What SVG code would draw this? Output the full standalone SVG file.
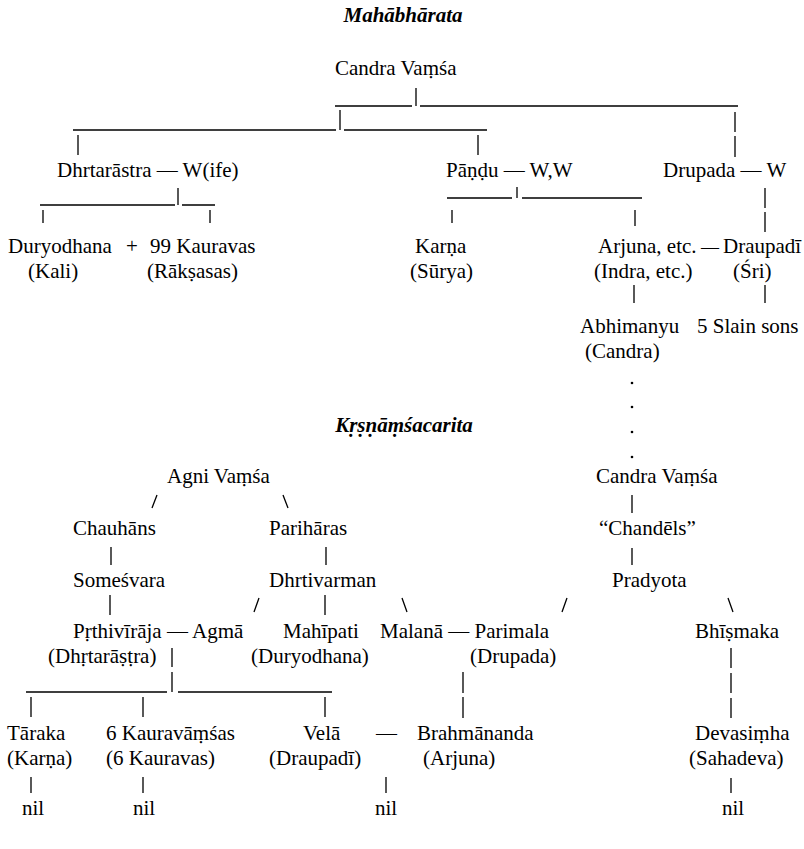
<svg xmlns="http://www.w3.org/2000/svg" width="804" height="849" viewBox="0 0 804 849">
<style>
text{font-family:"Liberation Serif","DejaVu Serif",serif;font-size:21px;fill:#000}
.t{font-weight:bold;font-style:italic;text-anchor:middle}
.c path{stroke:#000;stroke-width:1.3;fill:none}
.c circle{fill:#000}
</style>
<rect width="804" height="849" fill="#fff"/>
<g id="title-mahabharata"><text class="t" x="403" y="22">Mahābhārata</text></g>
<g class="c" id="connectors">
<path d="M416,88V106M335,106H412M420,106H738M340,110V130M73,130H336M344,130H487M78,135V155M478,135V155M735,112V132M735,136V157"/>
<path d="M178,188V205M40,205H175M182,205H215M43,210V223M210,210V223"/>
<path d="M517,187V198M447,198H512M522,198H642M452,210V223M635,210V226M765,188V208M765,212V232M634,285V303M765,285V303"/>
<circle cx="632" cy="383" r="1.3"/><circle cx="632" cy="407" r="1.3"/><circle cx="632" cy="432" r="1.3"/><circle cx="632" cy="457" r="1.3"/>
<path d="M157,495L152,508M283,495L288,508M111,547V565M326,547V565M632,495V513M632,548V565"/>
<path d="M110,595V615M325,595V615M259,598L254,612M402,598L407,612M567,598L562,612M728,598L733,612"/>
<path d="M172,648V667M172,672V692M26,692H167M178,692H332M31,697V717M143,697V717M325,697V717M463,672V693M463,697V718M731,648V668M731,673V693M731,698V718"/>
<path d="M31,777V793M143,777V793M386,777V793M731,778V793"/>
<text x="376" y="740">—</text>
</g>
<g id="candra-vamsa-1"><text x="335" y="75">Candra Vaṃśa</text></g>
<g id="dhrtarastra"><text x="57" y="177">Dhrtarāstra — W(ife)</text></g>
<g id="pandu"><text x="446" y="177">Pāṇḍu — W,W</text></g>
<g id="drupada"><text x="663" y="177">Drupada — W</text></g>
<g id="duryodhana"><text y="253"><tspan x="8">Duryodhana</tspan><tspan x="126">+</tspan><tspan x="150">99 Kauravas</tspan></text>
<text x="28" y="278">(Kali)</text><text x="147" y="278">(Rākṣasas)</text></g>
<g id="karna"><text x="415" y="253">Karṇa</text><text x="410" y="278">(Sūrya)</text></g>
<g id="arjuna"><text y="253"><tspan x="598">Arjuna, etc.</tspan><tspan x="701" font-size="18">—</tspan><tspan x="723">Draupadī</tspan></text>
<text x="594" y="278">(Indra, etc.)</text><text x="733" y="278">(Śri)</text></g>
<g id="abhimanyu"><text x="580" y="333">Abhimanyu</text><text x="585" y="358">(Candra)</text></g>
<g id="slain-sons"><text x="697" y="333">5 Slain sons</text></g>
<g id="title-krsnamsacarita"><text class="t" x="404" y="432">Kṛṣṇāṃśacarita</text></g>
<g id="agni-vamsa"><text x="167" y="483">Agni Vaṃśa</text></g>
<g id="candra-vamsa-2"><text x="596" y="483">Candra Vaṃśa</text></g>
<g id="chauhans"><text x="73" y="535">Chauhāns</text></g>
<g id="pariharas"><text x="269" y="535">Parihāras</text></g>
<g id="chandels"><text x="599" y="535">“Chandēls”</text></g>
<g id="somesvara"><text x="73" y="587">Someśvara</text></g>
<g id="dhrtivarman"><text x="269" y="587">Dhrtivarman</text></g>
<g id="pradyota"><text x="612" y="587">Pradyota</text></g>
<g id="prthiviraja"><text x="73" y="638">Pṛthivīrāja — Agmā</text><text x="48" y="663">(Dhṛtarāṣṭra)</text></g>
<g id="mahipati"><text x="283" y="638">Mahīpati</text><text x="251" y="663">(Duryodhana)</text></g>
<g id="malana-parimala"><text x="380" y="638">Malanā — Parimala</text><text x="470" y="663">(Drupada)</text></g>
<g id="bhismaka"><text x="695" y="638">Bhīṣmaka</text></g>
<g id="taraka"><text x="7" y="740">Tāraka</text><text x="7" y="765">(Karṇa)</text><text x="22" y="815">nil</text></g>
<g id="kauravamsas"><text x="106" y="740">6 Kauravāṃśas</text><text x="106" y="765">(6 Kauravas)</text><text x="133" y="815">nil</text></g>
<g id="vela"><text x="303" y="740">Velā</text><text x="269" y="765">(Draupadī)</text><text x="375" y="815">nil</text></g>
<g id="brahmananda"><text x="417" y="740">Brahmānanda</text><text x="423" y="765">(Arjuna)</text></g>
<g id="devasimha"><text x="695" y="740">Devasiṃha</text><text x="689" y="765">(Sahadeva)</text><text x="722" y="815">nil</text></g>
</svg>
